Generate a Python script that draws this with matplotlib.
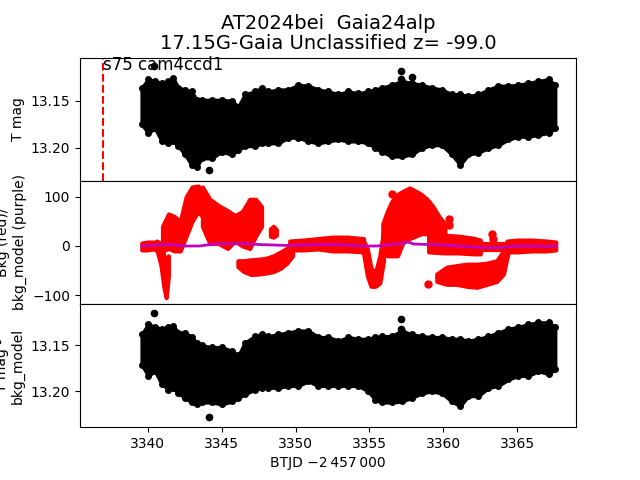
import matplotlib
matplotlib.use("Agg")
import matplotlib.pyplot as plt

# ---------------- data ----------------
sector_line_t = 3337.0
sector_label = "s75 cam4ccd1"
title_text = "AT2024bei  Gaia24alp\n17.15G-Gaia Unclassified z= -99.0"

# sampling times of the envelope readings (shared by top and bottom panels)
t_env = [3339.59, 3340.04, 3340.49, 3340.95, 3341.40, 3341.73, 3342.07, 3342.52, 3342.97, 3343.31,
         3343.65, 3344.33, 3345.00, 3345.68, 3346.13, 3346.58, 3347.26, 3347.71, 3348.16, 3348.84,
         3349.51, 3350.19, 3350.87, 3351.54, 3352.22, 3352.90, 3353.57, 3354.25, 3354.93, 3355.38,
         3355.83, 3356.51, 3357.18, 3357.86, 3358.54, 3359.21, 3359.89, 3360.57, 3361.13, 3361.69,
         3362.37, 3363.05, 3363.72, 3364.40, 3365.08, 3365.75, 3366.43, 3367.11, 3367.56]

# top panel: T mag envelope (bright edge / faint edge)
top_bright = [13.136, 13.127, 13.129, 13.131, 13.129, 13.126, 13.136, 13.138, 13.140, 13.149,
              13.149, 13.149, 13.149, 13.150, 13.156, 13.143, 13.140, 13.136, 13.140, 13.138,
              13.138, 13.133, 13.134, 13.138, 13.140, 13.143, 13.140, 13.142, 13.140, 13.138,
              13.136, 13.133, 13.129, 13.131, 13.133, 13.136, 13.138, 13.143, 13.143, 13.145,
              13.143, 13.138, 13.134, 13.134, 13.133, 13.131, 13.129, 13.127, 13.133]
top_faint = [13.175, 13.184, 13.179, 13.193, 13.195, 13.193, 13.198, 13.207, 13.218, 13.220,
             13.211, 13.211, 13.204, 13.207, 13.202, 13.198, 13.198, 13.195, 13.195, 13.195,
             13.189, 13.189, 13.193, 13.195, 13.193, 13.191, 13.193, 13.193, 13.195, 13.200,
             13.204, 13.209, 13.209, 13.207, 13.200, 13.197, 13.197, 13.207, 13.218, 13.207,
             13.205, 13.200, 13.197, 13.191, 13.188, 13.188, 13.186, 13.184, 13.179]
top_out_t = [3340.42, 3344.15, 3357.15, 3357.13, 3357.86]
top_out_m = [13.113, 13.223, 13.118, 13.127, 13.125]

# bottom panel: T mag - bkg_model envelope
bot_bright = [13.138, 13.127, 13.130, 13.132, 13.130, 13.129, 13.136, 13.136, 13.141, 13.147,
              13.150, 13.152, 13.152, 13.156, 13.161, 13.147, 13.140, 13.138, 13.140, 13.138,
              13.136, 13.134, 13.134, 13.141, 13.141, 13.145, 13.141, 13.143, 13.143, 13.141,
              13.140, 13.140, 13.134, 13.138, 13.140, 13.141, 13.141, 13.143, 13.143, 13.145,
              13.143, 13.140, 13.136, 13.132, 13.130, 13.127, 13.125, 13.125, 13.130]
bot_faint = [13.171, 13.183, 13.178, 13.192, 13.198, 13.196, 13.202, 13.207, 13.212, 13.214,
             13.212, 13.212, 13.214, 13.211, 13.207, 13.203, 13.198, 13.196, 13.196, 13.196,
             13.194, 13.194, 13.189, 13.194, 13.194, 13.194, 13.194, 13.194, 13.200, 13.209,
             13.212, 13.212, 13.211, 13.207, 13.202, 13.200, 13.202, 13.211, 13.216, 13.205,
             13.205, 13.196, 13.194, 13.187, 13.183, 13.183, 13.178, 13.181, 13.176]
bot_out_t = [3340.45, 3344.15, 3357.15, 3357.13]
bot_out_m = [13.115, 13.228, 13.121, 13.132]

# middle panel: background (red) as branches (time, low, high)
bkg_base1 = ([3339.6, 3340.0, 3340.4, 3340.7], [-8, -8, -6, -10], [6, 8, 8, 6])
bkg_dip1 = ([3340.6, 3340.9, 3341.1, 3341.25, 3341.4], [-5, -40, -85, -105, -60], [10, 5, -20, -60, -20])
bkg_rise1 = ([3341.0, 3341.4, 3341.8, 3342.2, 3342.6, 3343.0, 3343.4, 3343.7],
             [-10, -5, -10, -10, 20, 50, 70, 60], [40, 65, 60, 50, 100, 120, 122, 115])
bkg_decay = ([3343.7, 3344.2, 3344.8, 3345.4, 3345.9, 3346.4, 3346.9, 3347.3, 3347.7],
             [40, 5, 5, -5, 10, 0, -5, 20, 40], [120, 95, 82, 72, 62, 70, 95, 95, 80])
bkg_clump = ([3348.3, 3348.5, 3348.7], [20, 18, 22], [35, 40, 33])
bkg_low1 = ([3346.1, 3346.5, 3347.0, 3347.5, 3348.0, 3348.5, 3349.0, 3349.4, 3349.8],
            [-42, -52, -58, -57, -55, -52, -45, -35, -20], [-30, -30, -28, -27, -25, -20, -12, -5, 5])
bkg_base2 = ([3349.6, 3350.5, 3351.5, 3352.5, 3353.5, 3354.6], [-8, -8, -6, -10, -10, -12], [10, 12, 15, 18, 18, 15])
bkg_dip2 = ([3354.6, 3354.85, 3355.1, 3355.4, 3355.7, 3355.95], [-15, -60, -82, -82, -75, -30], [10, -5, -45, -55, -20, 30])
bkg_rise2 = ([3355.9, 3356.2, 3356.5, 3356.9, 3357.3, 3357.7, 3358.1, 3358.5, 3358.9, 3359.3, 3359.7, 3360.1],
             [-15, -20, -20, -20, 10, 15, 20, 25, 25, 15, 10, 5],
             [45, 70, 90, 105, 112, 118, 112, 105, 95, 80, 60, 45])
bkg_base3 = ([3359.0, 3360.0, 3361.0, 3362.0, 3362.5], [-12, -14, -14, -16, -16], [20, 22, 20, 16, 12])
bkg_mid = ([3362.5, 3363.3, 3364.3], [-8, -8, -8], [5, 5, 5])
bkg_low2 = ([3359.55, 3360.23, 3360.9, 3361.58, 3362.26, 3362.94, 3363.61, 3364.06, 3364.4],
            [-72, -78, -78, -82, -84, -78, -72, -57, -10], [-57, -43, -40, -37, -37, -35, -30, -10, 5])
bkg_base4 = ([3364.3, 3365.0, 3366.0, 3367.0, 3367.6], [-12, -12, -10, -10, -8], [10, 12, 12, 10, 8])
bkg_branches = [bkg_base1, bkg_dip1, bkg_rise1, bkg_decay, bkg_clump, bkg_low1, bkg_base2,
                bkg_dip2, bkg_rise2, bkg_base3, bkg_mid, bkg_low2, bkg_base4]
bkg_out_t = [3358.95, 3360.35, 3360.4, 3363.3, 3363.35, 3356.55, 3348.55]
bkg_out_v = [-78, 55, 42, 25, 14, 106, 30]

# background model (purple)
model_t = [3339.6, 3340.5, 3341.5, 3342.5, 3343.5, 3344.5, 3345.5, 3346.5, 3347.5, 3348.5,
           3349.5, 3350.5, 3351.5, 3352.5, 3353.5, 3354.5, 3355.5, 3356.5, 3357.2, 3357.6,
           3358.0, 3359.0, 3360.0, 3361.0, 3362.0, 3363.0, 3364.0, 3365.0, 3366.0, 3367.0, 3367.6]
model_v = [0, 2, 3, 0, 0, 4, 5, 5, 3, 2, 1, 2, 3, 3, 2, 0, 0, 3, 5, 8,
           4, 3, 2, 0, -2, -4, -3, 0, 0, -1, 0]

# ---------------- plotting ----------------
fig, axes = plt.subplots(3, 1, sharex=True, figsize=(6.4, 4.8), dpi=100)
fig.subplots_adjust(hspace=0)
ax1, ax2, ax3 = axes

# top
ax1.fill_between(t_env, top_bright, top_faint, color="black", lw=2.5, edgecolor="black")
ax1.plot(t_env, top_bright, "o", color="black", ms=4)
ax1.plot(t_env, top_faint, "o", color="black", ms=4)
ax1.plot(top_out_t, top_out_m, "o", color="black", ms=4.5)
ax1.axvline(sector_line_t, color="red", ls="--", lw=1.5)
ax1.text(sector_line_t, 1.015, sector_label, transform=ax1.get_xaxis_transform(),
         ha="left", va="top", fontsize=12)
ax1.set_ylim(13.235, 13.104)
ax1.set_yticks([13.15, 13.20])
ax1.set_ylabel("T mag")
ax1.set_title(title_text, fontsize=14, linespacing=1.07)

# middle
for bt, blo, bhi in bkg_branches:
    ax2.fill_between(bt, blo, bhi, color="red", edgecolor="red", lw=3)
ax2.plot(bkg_out_t, bkg_out_v, "o", color="red", ms=5)
ax2.plot(model_t, model_v, color="m", lw=2)
ax2.set_ylim(-118, 132.6)
ax2.set_yticks([-100, 0, 100])
ax2.set_ylabel("Bkg (red)/\nbkg_model (purple)")

# bottom
ax3.fill_between(t_env, bot_bright, bot_faint, color="black", lw=2.5, edgecolor="black")
ax3.plot(t_env, bot_bright, "o", color="black", ms=4)
ax3.plot(t_env, bot_faint, "o", color="black", ms=4)
ax3.plot(bot_out_t, bot_out_m, "o", color="black", ms=4.5)
ax3.set_ylim(13.239, 13.105)
ax3.set_yticks([13.15, 13.20])
ax3.set_ylabel("T mag -\nbkg_model")

ax3.set_xlim(3335.42, 3368.97)
ax3.set_xticks([3340, 3345, 3350, 3355, 3360, 3365])
ax3.set_xlabel("BTJD \u22122\u2009457\u2009000")

fig.savefig("out.png", dpi=100)
